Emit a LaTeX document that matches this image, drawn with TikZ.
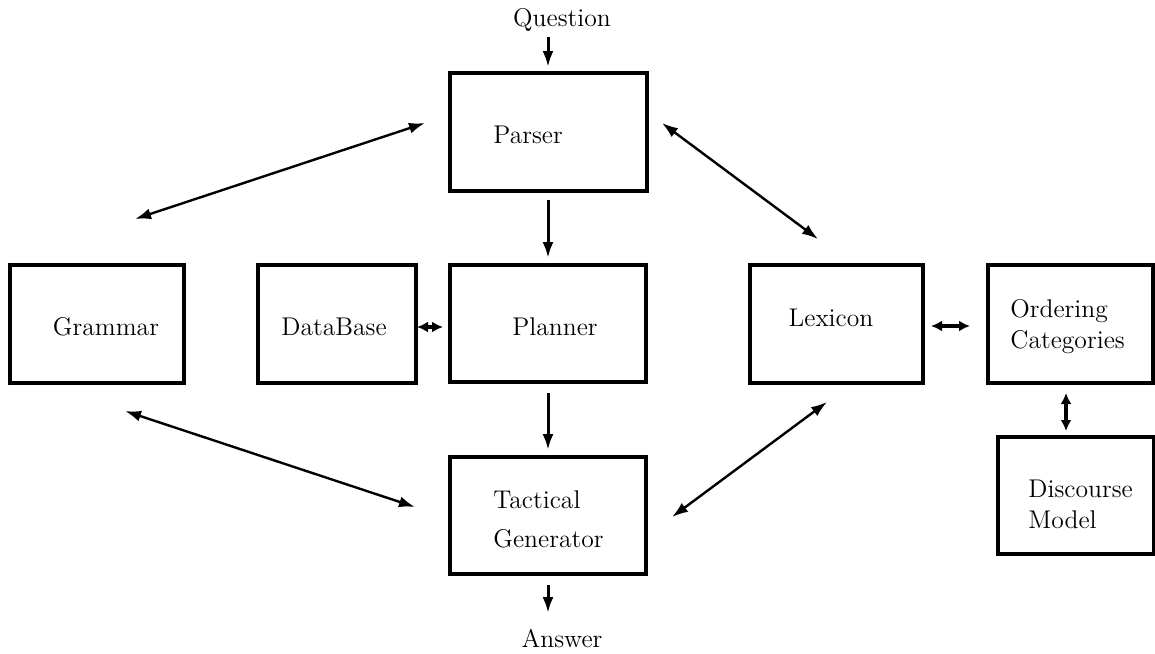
\documentclass[tikz,border=0pt]{standalone}
\usetikzlibrary{arrows.meta}
\begin{document}
\begin{tikzpicture}[x=0.5pt,y=-0.5pt,
  box/.style={draw,line width=2pt,inner sep=0pt},
  lbl/.style={inner sep=0pt,font=\fontsize{12.8}{15.5}\selectfont,align=left},
  flow/.style={line width=1.5pt,-{Latex[length=8pt,width=5.5pt]}},
  link/.style={line width=1.2pt,{Latex[length=8pt,width=5.5pt]}-{Latex[length=8pt,width=5.5pt]}},
  shortlink/.style={line width=2pt,{Latex[length=5.5pt,width=5.5pt]}-{Latex[length=5.5pt,width=5.5pt]}}]
\useasboundingbox (0,0) rectangle (1155,653);
% boxes
\node[box,minimum width=98.5pt,minimum height=59pt] (parser) at (548.5,132) {};
\node[box,minimum width=87pt,minimum height=59pt] (grammar) at (97,324) {};
\node[box,minimum width=79pt,minimum height=59pt] (database) at (337,324) {};
\node[box,minimum width=98pt,minimum height=58.5pt] (planner) at (548,323.5) {};
\node[box,minimum width=86.5pt,minimum height=59pt] (lexicon) at (836.5,324) {};
\node[box,minimum width=82.5pt,minimum height=59pt] (ordering) at (1070.5,324) {};
\node[box,minimum width=78pt,minimum height=58.5pt] (discourse) at (1076,495.5) {};
\node[box,minimum width=98pt,minimum height=58.5pt] (tactical) at (548,515.5) {};
% texts
\node[lbl] (tq) at (562,20) {Question};
\node[lbl,anchor=west] (tparser) at (493,135) {Parser};
\node[lbl] (tgrammar) at (106,327) {Grammar};
\node[lbl] (tdatabase) at (334,327) {DataBase};
\node[lbl] (tplanner) at (555,327) {Planner};
\node[lbl] (tlexicon) at (831,318) {Lexicon};
\node[lbl,anchor=west] (tordering) at (1010,327) {Ordering\\Categories};
\node[lbl,anchor=west] (tdiscourse) at (1028,504) {Discourse\\Model};
\node[lbl,anchor=west] (ttactical) at (493,519) {Tactical\\[4pt]Generator};
\node[lbl] (tanswer) at (562,638) {Answer};
% connector end points
\coordinate (q1) at (548,37);   \coordinate (q2) at (548,67);
\coordinate (pp1) at (548,200); \coordinate (pp2) at (548,258);
\coordinate (pt1) at (548,393); \coordinate (pt2) at (548,450);
\coordinate (ta1) at (548,585); \coordinate (ta2) at (548,613);
\coordinate (db1) at (443,327); \coordinate (db2) at (417,327);
\coordinate (lo1) at (931,326); \coordinate (lo2) at (970,326);
\coordinate (od1) at (1066,393); \coordinate (od2) at (1066,431);
\coordinate (pg1) at (425,123); \coordinate (pg2) at (135,219);
\coordinate (pl1) at (662,123); \coordinate (pl2) at (818,239);
\coordinate (gt1) at (125,411); \coordinate (gt2) at (415,507);
\coordinate (tl1) at (672,517); \coordinate (tl2) at (827,402);
% connectors
\draw[flow] (q1) -- (q2);
\draw[flow] (pp1) -- (pp2);
\draw[flow] (pt1) -- (pt2);
\draw[flow] (ta1) -- (ta2);
\draw[shortlink] (db1) -- (db2);
\draw[shortlink] (lo1) -- (lo2);
\draw[shortlink] (od1) -- (od2);
\draw[link] (pg1) -- (pg2);
\draw[link] (pl1) -- (pl2);
\draw[link] (gt1) -- (gt2);
\draw[link] (tl1) -- (tl2);
\end{tikzpicture}
\end{document}
